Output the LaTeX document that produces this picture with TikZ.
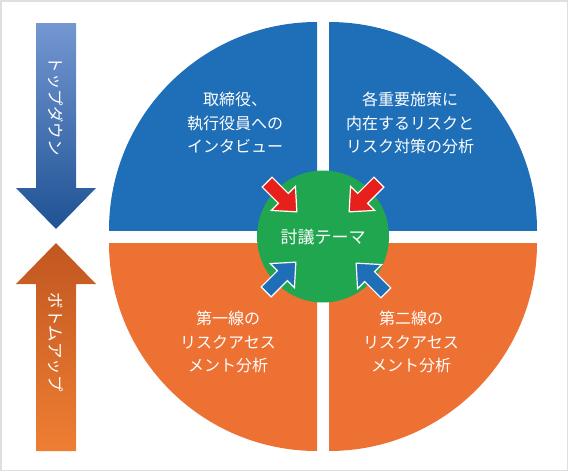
\documentclass[tikz,border=0pt]{standalone}
\usepackage{fontspec}
\setmainfont{Noto Sans CJK JP}
\definecolor{quadblue}{RGB}{30,111,183}
\definecolor{quadorange}{RGB}{237,113,51}
\definecolor{themegreen}{RGB}{33,166,80}
\definecolor{arrred}{RGB}{232,32,27}
\definecolor{arrblue}{RGB}{30,111,183}
\definecolor{tdtop}{RGB}{116,151,209}
\definecolor{tdbot}{RGB}{30,82,148}
\definecolor{butop}{RGB}{193,87,33}
\definecolor{bubot}{RGB}{238,126,50}
\begin{document}
\begin{tikzpicture}[x=1pt, y=-1pt,
    quadtxt/.style = {text=white, align=center, font=\fontsize{16}{23.5}\selectfont},
    sidetxt/.style = {text=white, font=\fontsize{16.5}{20}\selectfont},
    smallarr/.style = {draw=white, line width=1.2pt, line join=miter}]
    \useasboundingbox (0,0) rectangle (568,471);
    \draw[gray!25, line width=1.5pt] (0.75,0.75) rectangle (567.25,470.25);

    % four quadrants
    \begin{scope}
        \clip (317,230) rectangle (100,10);
        \fill[quadblue] (317,230) circle (208);
    \end{scope}
    \begin{scope}
        \clip (329,230) rectangle (545,10);
        \fill[quadblue] (329,230) circle (208);
    \end{scope}
    \begin{scope}
        \clip (317,243) rectangle (100,460);
        \fill[quadorange] (317,243) circle (208);
    \end{scope}
    \begin{scope}
        \clip (329,243) rectangle (545,460);
        \fill[quadorange] (329,243) circle (208);
    \end{scope}

    \node[quadtxt] (q1) at (235,123) {取締役、\\執行役員への\\インタビュー};
    \node[quadtxt] (q2) at (410,123) {各重要施策に\\内在するリスクと\\リスク対策の分析};
    \node[quadtxt] (q3) at (228,342) {第一線の\\リスクアセス\\メント分析};
    \node[quadtxt] (q4) at (411,342) {第二線の\\リスクアセス\\メント分析};

    % theme circle
    \fill[themegreen] (323,236.5) circle (66);
    \node[quadtxt, font=\fontsize{17}{20}\selectfont] (theme) at (323,237) {討議テーマ};

    \draw[smallarr, fill=arrred, shift={(282,197)}, rotate=-45]
        (-21,-7) -- (2,-7) -- (2,-17) -- (21,0) -- (2,17) -- (2,7) -- (-21,7) -- cycle;
    \draw[smallarr, fill=arrred, shift={(364,197)}, rotate=-135]
        (-21,-7) -- (2,-7) -- (2,-17) -- (21,0) -- (2,17) -- (2,7) -- (-21,7) -- cycle;
    \draw[smallarr, fill=arrblue, shift={(281,277)}, rotate=45]
        (-21,-7) -- (2,-7) -- (2,-17) -- (21,0) -- (2,17) -- (2,7) -- (-21,7) -- cycle;
    \draw[smallarr, fill=arrblue, shift={(371,278)}, rotate=135]
        (-21,-7) -- (2,-7) -- (2,-17) -- (21,0) -- (2,17) -- (2,7) -- (-21,7) -- cycle;

    % side arrows
    \shade[top color=tdtop, bottom color=tdbot]
        (36,23) -- (76,23) -- (76,188) -- (96,188) -- (56,229) -- (16,188) -- (36,188) -- cycle;
    \shade[top color=butop, bottom color=bubot]
        (56,243) -- (96,284) -- (76,284) -- (76,451) -- (36,451) -- (36,284) -- (16,284) -- cycle;
    \node[sidetxt, rotate=-90] (td) at (56,106) {トップダウン};
    \node[sidetxt, rotate=-90] (bu) at (56,342) {ボトムアップ};
\end{tikzpicture}
\end{document}
